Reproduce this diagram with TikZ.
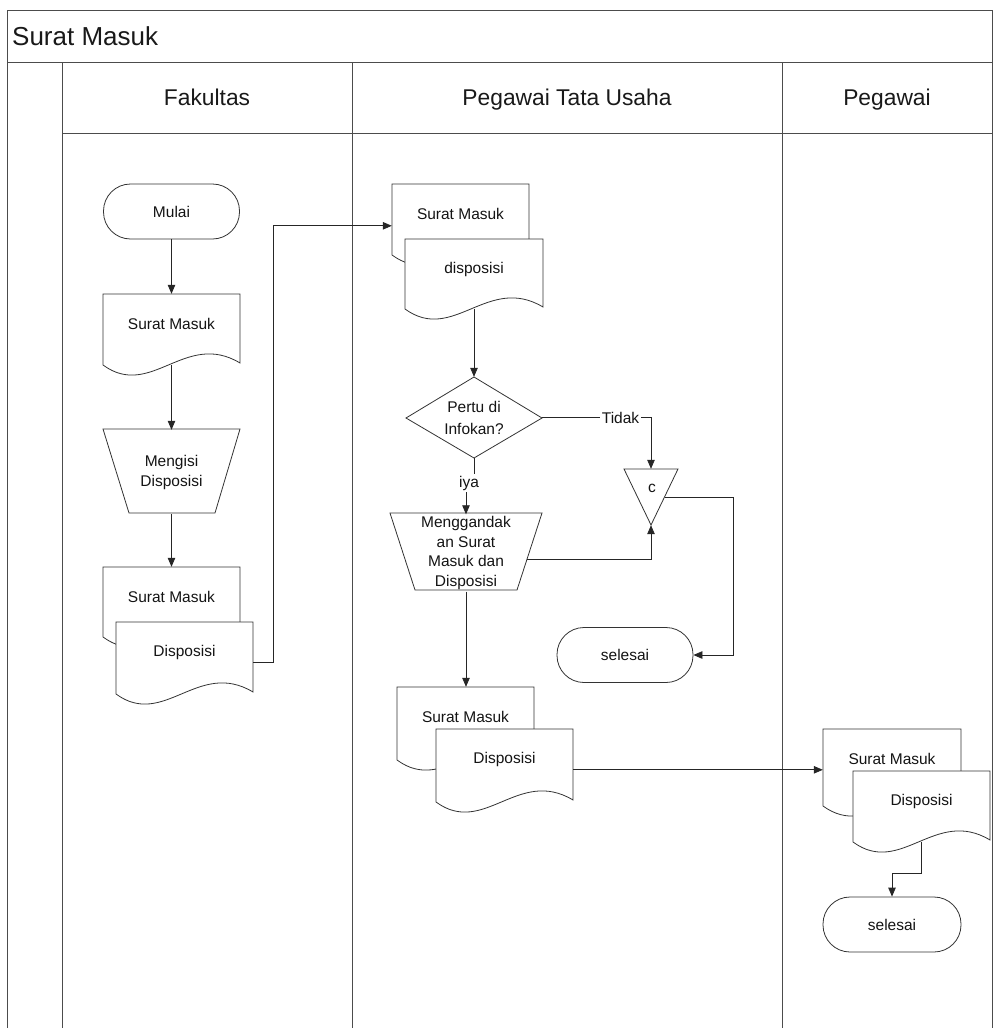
\documentclass[tikz,border=0pt]{standalone}
\usepackage{fontspec}
\setmainfont{Liberation Sans}
\usetikzlibrary{arrows.meta,calc}
\newcommand\docshape[6]{%
  \path[shp] (#2,#3) -- ({#2+#4},#3) -- ({#2+#4},{#3+#5-2})
    .. controls ({#2+0.6*#4},{#3+#5-35}) and ({#2+0.35*#4},{#3+#5+35}) .. (#2,{#3+#5}) -- cycle;
  \node[inner sep=0pt, minimum width=#4pt, minimum height=#5pt] (#1) at ({#2+#4/2},{#3+#5/2}) {};
  \node[txt] (#1t) at ({#2+#4/2},{#3+30}) {#6};
}
\begin{document}
\begin{tikzpicture}[x=1pt,y=-1pt,
  frame/.style={draw=black!70, line width=1pt},
  shp/.style={draw=black!80, line width=0.8pt, fill=white},
  conn/.style={draw=black!85, line width=0.8pt, -{Triangle[length=9pt,width=7.5pt]}},
  txt/.style={font=\fontsize{15.5}{20}\selectfont, text=black!92, align=center, inner sep=0pt},
  term/.style={shp, txt, rounded corners=27pt, minimum width=136pt, minimum height=55pt},
  hdr/.style={font=\fontsize{22.8}{26}\selectfont, text=black!90, inner sep=0pt, anchor=base},
  lbl/.style={txt, fill=white, inner sep=1.5pt}
]
\useasboundingbox (0,0) rectangle (996,1028);
% frame
\draw[frame] (7,1028) -- (7,10) -- (992,10) -- (992,1028);
\draw[frame] (7,62) -- (992,62);
\draw[frame] (62,133) -- (992,133);
\draw[frame] (62,62) -- (62,1028);
\draw[frame] (352,62) -- (352,1028);
\draw[frame] (782,62) -- (782,1028);
\node[anchor=base west, font=\fontsize{26}{30}\selectfont, inner sep=0pt, text=black!90] (title) at (12,45) {Surat Masuk};
\node[hdr] (h1) at (207,105) {Fakultas};
\node[hdr] (h2) at (567,105) {Pegawai Tata Usaha};
\node[hdr] (h3) at (887,105) {Pegawai};

% Fakultas lane
\node[term] (mulai) at (171.5,211.5) {Mulai};
\docshape{d1}{103}{294}{137}{71}{Surat Masuk}
\path[shp] (103,429) -- (240,429) -- (215,513) -- (129,513) -- cycle;
\node[txt, minimum width=137pt, minimum height=84pt] (t1) at (171.5,472) {Mengisi\\Disposisi};
\docshape{d2a}{103}{567}{137}{70}{Surat Masuk}
\docshape{d2b}{116}{622}{137}{72}{Disposisi}

% PTU lane
\docshape{d3a}{392}{184}{137}{71}{Surat Masuk}
\docshape{d3b}{405}{239}{138}{70}{disposisi}
\path[shp] (406,418) -- (474,377) -- (542,418) -- (474,458) -- cycle;
\node[txt, minimum width=136pt, minimum height=81pt, font=\fontsize{15.5}{22}\selectfont] (dia) at (474,417.5) {Pertu di\\Infokan?};
\path[shp] (624,469) -- (678,469) -- (651,525) -- cycle;
\node[inner sep=0pt, minimum width=54pt, minimum height=56pt] (tri) at (651,497) {};
\node[txt] (trit) at (652,488) {c};
\path[shp] (390,513) -- (542,513) -- (517,590) -- (415,590) -- cycle;
\node[txt, minimum width=152pt, minimum height=77pt, font=\fontsize{15.5}{19.5}\selectfont] (t2) at (466,553) {Menggandak\\an Surat\\Masuk dan\\Disposisi};
\node[term] (sel1) at (625,655) {selesai};
\docshape{d4a}{397}{687}{137}{73}{Surat Masuk}
\docshape{d4b}{436}{729}{137}{73}{Disposisi}

% Pegawai lane
\docshape{d5a}{823}{729}{138}{77}{Surat Masuk}
\docshape{d5b}{853}{771}{137}{71}{Disposisi}
\node[term, minimum width=138pt] (sel2) at (892,924.5) {selesai};

% connectors
\coordinate (t2r) at (527,559);
\coordinate (trir) at (664.5,497);
\draw[conn] (mulai.south) -- (mulai.south |- d1.north);
\draw[conn] (d1.south) -- (t1.north);
\draw[conn] (t1.south) -- (t1.south |- d2a.north);
\draw[conn] ($(d2b.north east)+(0,41)$) -- ++(20,0) |- ($(d3a.north west)+(0,42)$);
\draw[conn] (d3b.south) -- (dia.north);
\draw[conn] (dia.east) -| (tri.north) node[lbl, pos=0.36] (tidak) {Tidak};
\draw[conn] (dia.south) -- ++(0,25) -| (t2.north);
\node[lbl] (iya) at (469,483) {iya};
\draw[conn] (t2r) -| (tri.south);
\draw[conn] (trir) -- (733,497) |- (sel1.east);
\draw[conn] (t2.south) -- (t2.south |- d4a.north);
\draw[conn] ($(d4b.north east)+(0,41)$) -- ($(d5a.north west)+(0,41)$);
\draw[conn] (d5b.south) -- ++(0,31) -| (sel2.north);
\end{tikzpicture}
\end{document}
